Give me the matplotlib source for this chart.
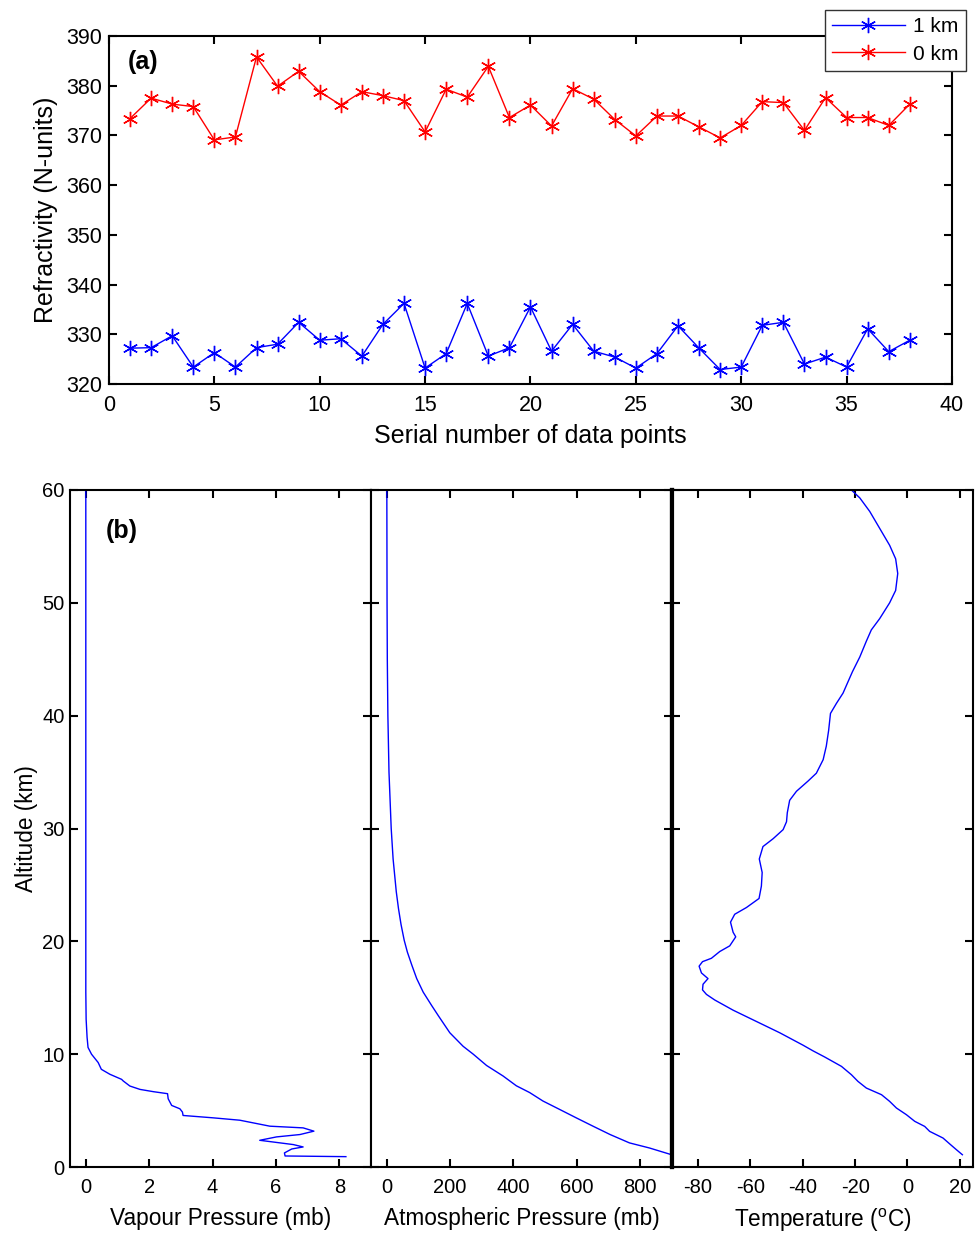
import matplotlib
matplotlib.use("Agg")
import matplotlib.pyplot as plt
import numpy as np

plt.rcParams['font.family'] = ['Liberation Sans', 'DejaVu Sans']
plt.rcParams['mathtext.fontset'] = 'custom'
plt.rcParams['mathtext.rm'] = 'Liberation Sans'
plt.rcParams['axes.unicode_minus'] = False

# panel (a): refractivity at each data point
serial_no = np.arange(1, 39)
n_1km = [327.2, 327.3, 329.7, 323.4, 326.3, 323.4, 327.3, 328.0, 332.4, 328.8,
         329.1, 325.6, 332.0, 336.2, 323.2, 326.1, 336.2, 325.6, 327.3, 335.5,
         326.6, 332.0, 326.6, 325.4, 323.2, 326.1, 331.7, 327.2, 322.9, 323.4,
         331.8, 332.4, 324.0, 325.4, 323.4, 331.1, 326.5, 328.8]
n_0km = [373.4, 377.5, 376.3, 375.8, 369.1, 369.7, 385.8, 379.9, 382.9, 378.8,
         376.1, 378.8, 378.0, 377.0, 370.7, 379.3, 377.7, 383.9, 373.6, 376.1,
         371.9, 379.4, 377.3, 373.2, 369.9, 373.9, 373.9, 371.7, 369.5, 372.0,
         376.8, 376.6, 371.0, 377.6, 373.6, 373.6, 372.0, 376.3]

# panel (b): profiles vs altitude (km)
vp_alt = [0.92, 0.98, 1.25, 1.6, 1.78, 1.99, 2.37, 2.67, 2.88, 3.18, 3.47, 3.62,
          4.15, 4.36, 4.57, 4.87, 5.16, 5.46, 6.05, 6.5, 6.68, 6.88, 7.18, 7.63,
          7.77, 8.22, 8.66, 9.26, 10.0, 10.6, 11.5, 13.1, 15.5, 60.0]
vp = [8.21, 6.29, 6.27, 6.5, 6.86, 6.55, 5.49, 6.02, 6.76, 7.2, 6.86, 5.81,
      4.86, 4.02, 3.07, 3.05, 2.97, 2.71, 2.6, 2.58, 2.13, 1.71, 1.39, 1.18,
      1.13, 0.76, 0.49, 0.39, 0.18, 0.07, 0.04, 0.01, 0.0, 0.0]

ap_alt = [1.1, 1.69, 2.14, 2.88, 3.62, 4.36, 5.1, 5.85, 6.6, 7.2, 8.07, 9.0,
          10.0, 10.7, 11.9, 13.4, 14.3, 15.5, 16.7, 17.9, 19.05, 20.1, 21.5,
          22.9, 24.4, 27.3, 30.0, 35.0, 40.0, 45.0, 50.0, 60.0]
ap = [898, 829, 766, 705, 651, 598, 546, 493, 451, 409, 367, 315,
      273, 241, 199, 163, 142, 115, 94.5, 79, 65, 55, 45,
      37, 30, 20, 14, 7, 3.5, 1.7, 0.9, 0.2]

t_alt = [1.09, 1.54, 2.04, 2.57, 3.16, 3.6, 4.05, 4.64, 5.23, 5.82, 6.41, 7.0,
         7.59, 8.18, 8.92, 9.75, 10.3, 10.8, 11.9, 12.9, 13.9, 14.8, 15.3, 15.7,
         16.2, 16.7, 17.2, 17.8, 18.2, 18.5, 19.1, 19.6, 20.4, 20.8, 21.7, 22.4,
         23.0, 23.8, 24.9, 26.1, 27.3, 28.4, 29.1, 29.9, 30.6, 31.4, 32.5, 33.3,
         34.2, 34.9, 36.1, 37.3, 38.7, 40.2, 41.1, 42.0, 42.9, 43.9, 45.2, 46.6,
         47.6, 48.6, 50.0, 51.1, 52.6, 53.9, 55.1, 56.6, 58.1, 59.3, 60.0]
temp = [21.0, 18.7, 16.2, 13.6, 8.5, 6.6, 2.8, -0.4, -4.2, -6.8, -9.9, -15.7,
        -18.9, -21.4, -25.2, -31.6, -36.1, -39.9, -48.8, -57.7, -66.6, -73.6, -76.8, -78.3,
        -78.1, -76.2, -78.7, -79.6, -78.3, -74.9, -71.7, -67.9, -65.6, -66.6, -67.6, -66.0,
        -61.5, -56.7, -55.8, -55.5, -56.6, -55.2, -51.3, -47.5, -46.2, -45.9, -45.0, -42.4,
        -38.0, -34.8, -32.2, -31.0, -30.1, -29.4, -27.1, -24.6, -22.9, -21.0, -18.2, -15.7,
        -13.8, -10.6, -6.8, -4.5, -3.7, -4.5, -6.8, -10.6, -14.4, -18.2, -21.4]

asterisk = (6, 2, 0)
tick_kw = dict(direction='in', length=6, width=1.5, top=True, right=True)

fig = plt.figure(figsize=(9.8, 12.33), dpi=100)

# ---- (a)
ax = fig.add_axes([0.1112, 0.6886, 0.8602, 0.2822])
ax.plot(serial_no, n_1km, color='#0000ff', lw=1.0, marker=asterisk, ms=11, mew=1.0, label='1 km')
ax.plot(serial_no, n_0km, color='#ff0000', lw=1.0, marker=asterisk, ms=11, mew=1.0, label='0 km')
ax.set_xlim(0, 40)
ax.set_ylim(320, 390)
ax.set_xticks(range(0, 41, 5))
ax.set_yticks(range(320, 391, 10))
ax.tick_params(labelsize=15.5, **tick_kw)
ax.tick_params(axis='x', pad=8)
ax.tick_params(axis='y', pad=5)
for s in ax.spines.values():
    s.set_linewidth(1.5)
ax.set_xlabel('Serial number of data points', fontsize=18, labelpad=6)
ax.set_ylabel('Refractivity (N-units)', fontsize=18, labelpad=6)
ax.text(0.022, 0.925, '(a)', transform=ax.transAxes, fontsize=18, fontweight='bold', va='center')
leg = ax.legend(loc='upper right', bbox_to_anchor=(966 / 980, 1 - 10 / 1233),
                bbox_transform=fig.transFigure, fontsize=15, fancybox=False,
                borderpad=0.35, handlelength=3.5, handletextpad=0.4, labelspacing=0.4,
                borderaxespad=0)
leg.get_frame().set_edgecolor('#333333')
leg.get_frame().set_linewidth(1.0)
leg.get_frame().set_alpha(1)

# ---- (b)
bottom, height = 0.0535, 0.5491
w = 0.3071
ax1 = fig.add_axes([0.0714, bottom, w, height])
ax2 = fig.add_axes([0.0714 + w, bottom, w, height])
ax3 = fig.add_axes([0.0714 + 2 * w, bottom, w, height])

ax1.plot(vp, vp_alt, color='#0000ff', lw=1.0)
ax1.set_xlim(-0.5, 9)
ax1.set_xticks([0, 2, 4, 6, 8])
ax1.set_xlabel('Vapour Pressure (mb)', fontsize=16.3, labelpad=7)
ax1.set_ylabel('Altitude (km)', fontsize=16.3, labelpad=3)
ax1.text(0.12, 0.94, '(b)', transform=ax1.transAxes, fontsize=18, fontweight='bold', va='center')

ax2.plot(ap, ap_alt, color='#0000ff', lw=1.0)
ax2.set_xlim(-50, 900)
ax2.set_xticks([0, 200, 400, 600, 800])
ax2.set_xlabel('Atmospheric Pressure (mb)', fontsize=16.3, labelpad=7)

ax3.plot(temp, t_alt, color='#0000ff', lw=1.0)
ax3.set_xlim(-90, 25)
ax3.set_xticks([-80, -60, -40, -20, 0, 20])
ax3.set_xlabel(r'Temperature ($^{\mathrm{o}}$C)', fontsize=16.3, labelpad=7)

for a in (ax1, ax2, ax3):
    a.set_ylim(0, 60)
    a.set_yticks(range(0, 61, 10))
    a.tick_params(labelsize=14.5, **tick_kw)
    a.tick_params(axis='x', pad=8)
    a.tick_params(axis='y', pad=4)
    for s in a.spines.values():
        s.set_linewidth(1.5)
ax2.set_yticklabels([])
ax3.set_yticklabels([])
ax2.spines['right'].set_linewidth(3)
ax3.spines['left'].set_linewidth(3)

fig.savefig('out.png', dpi=100)
